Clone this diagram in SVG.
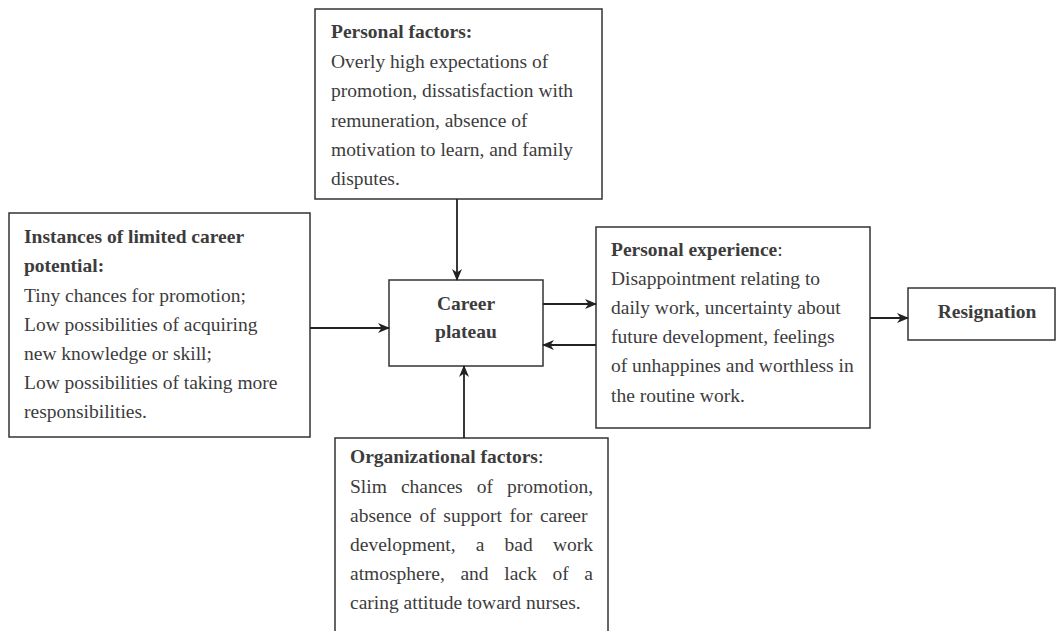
<svg xmlns="http://www.w3.org/2000/svg" width="1056" height="631" viewBox="0 0 1056 631">
<style>
.box{fill:#fff;stroke:#333;stroke-width:1.5}
text{font-family:"Liberation Serif","Times New Roman",serif;font-size:19.5px;fill:#3c3c3c}
.b{font-weight:bold}
.c{text-anchor:middle}
.conn line{stroke:#222;stroke-width:1.8;marker-end:url(#ah)}
</style>
<defs>
<marker id="ah" viewBox="0 0 12 10" refX="11" refY="5" markerWidth="12" markerHeight="10" markerUnits="userSpaceOnUse" orient="auto">
<path d="M0,0 L12,5 L0,10 L3.5,5 Z" fill="#222"/>
</marker>
</defs>
<rect width="1056" height="631" fill="#fff"/>
<g id="personal-factors">
<rect class="box" x="315" y="9" width="287" height="190"/>
<text x="331" y="38" class="b">Personal factors:</text>
<text x="331" y="68">Overly high expectations of</text>
<text x="331" y="97">promotion, dissatisfaction with</text>
<text x="331" y="127">remuneration, absence of</text>
<text x="331" y="156">motivation to learn, and family</text>
<text x="331" y="185">disputes.</text>
</g>
<g id="limited-potential">
<rect class="box" x="9" y="213" width="301" height="224"/>
<text x="24" y="243" class="b">Instances of limited career</text>
<text x="24" y="272" class="b">potential:</text>
<text x="24" y="302">Tiny chances for promotion;</text>
<text x="24" y="331">Low possibilities of acquiring</text>
<text x="24" y="360">new knowledge or skill;</text>
<text x="24" y="389">Low possibilities of taking more</text>
<text x="24" y="418">responsibilities.</text>
</g>
<g id="career-plateau">
<rect class="box" x="389" y="280" width="154" height="86"/>
<text x="466" y="310" class="b c">Career</text>
<text x="466" y="338" class="b c">plateau</text>
</g>
<g id="personal-experience">
<rect class="box" x="596" y="227" width="274" height="201"/>
<text x="611" y="256"><tspan class="b">Personal experience</tspan>:</text>
<text x="611" y="285">Disappointment relating to</text>
<text x="611" y="314">daily work, uncertainty about</text>
<text x="611" y="343">future development, feelings</text>
<text x="611" y="372">of unhappines and worthless in</text>
<text x="611" y="402">the routine work.</text>
</g>
<g id="resignation">
<rect class="box" x="908" y="288" width="147" height="52"/>
<text x="987" y="318" class="b c">Resignation</text>
</g>
<g id="organizational-factors">
<rect class="box" x="335" y="438" width="273" height="200"/>
<text x="350" y="463"><tspan class="b">Organizational factors</tspan>:</text>
<text x="350" y="493" word-spacing="9.2">Slim chances of promotion,</text>
<text x="350" y="522" word-spacing="2.8">absence of support for career</text>
<text x="350" y="551" word-spacing="15.3">development, a bad work</text>
<text x="350" y="580" word-spacing="10.8">atmosphere, and lack of a</text>
<text x="350" y="609">caring attitude toward nurses.</text>
</g>
<g id="connectors" class="conn">
<line x1="457" y1="199" x2="457" y2="280"/>
<line x1="310" y1="328" x2="389" y2="328"/>
<line x1="543" y1="304" x2="596" y2="304"/>
<line x1="596" y1="345" x2="543" y2="345"/>
<line x1="870" y1="318" x2="908" y2="318"/>
<line x1="464" y1="438" x2="464" y2="366"/>
</g>
</svg>
